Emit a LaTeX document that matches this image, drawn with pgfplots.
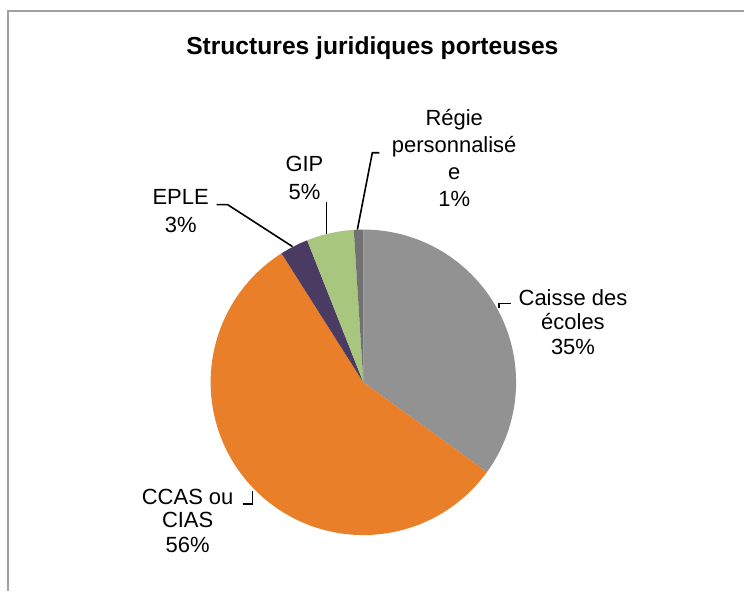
\documentclass[border=0pt]{standalone}
\usepackage{pgfplots}
\usepackage{pgfplotstable}
\pgfplotsset{compat=1.18}
\usepackage{fontspec}
\setmainfont{Liberation Sans}

\definecolor{cgray}{HTML}{929292}
\definecolor{corange}{HTML}{E97F29}
\definecolor{cpurple}{HTML}{4A3B63}
\definecolor{cgreen}{HTML}{A8C67D}
\definecolor{cdgray}{HTML}{727272}
\definecolor{cframe}{HTML}{A0A0A0}

% share of each structure (%), clockwise from 12 o'clock
\pgfplotstableread{
label value color
Caisse 35 cgray
CCAS 56 corange
EPLE 3 cpurple
GIP 5 cgreen
Regie 1 cdgray
}\piedata

\newcommand{\lblfont}{\fontsize{16.5}{20}\selectfont}

\begin{document}
\begin{tikzpicture}
\begin{axis}[
    x=0.75pt, y=0.75pt,
    xmin=0, xmax=745, ymin=0, ymax=592,
    hide axis, clip=false,
    scale only axis,
]
\path[fill=white] (axis cs:0,0) rectangle (axis cs:745,592);

% pie slices
\pgfplotstablegetrowsof{\piedata}
\pgfmathtruncatemacro\nrows{\pgfplotsretval-1}
\def\angstart{90}
\pgfplotsforeachungrouped \i in {0,...,\nrows}{
  \pgfplotstablegetelem{\i}{value}\of\piedata \let\v\pgfplotsretval
  \pgfplotstablegetelem{\i}{color}\of\piedata \let\c\pgfplotsretval
  \pgfmathsetmacro\angend{\angstart-3.6*\v}
  \edef\temp{\noexpand\fill[\c] (axis cs:364,209) -- ++(\angstart:114.75pt)
    arc[start angle=\angstart, end angle=\angend, radius=114.75pt] -- cycle;}
  \temp
  \global\let\angstart\angend
}

% frame
\draw[cframe, line width=2pt] (axis cs:8,0) -- (axis cs:8,581) -- (axis cs:745,581);

% title
\node[anchor=base, font=\fontsize{18.5}{22}\selectfont\bfseries] at (axis cs:373,537) {Structures juridiques porteuses};

% leader lines
\begin{scope}[black, line width=1.2pt]
\draw (axis cs:500,283) -- (axis cs:500,288) -- (axis cs:512,288);
\draw (axis cs:243,87) -- (axis cs:253,87) -- (axis cs:253,100);
\draw (axis cs:217,387) -- (axis cs:228,387) -- (axis cs:293,345);
\draw (axis cs:327,390) -- (axis cs:327,358);
\draw (axis cs:380,439) -- (axis cs:373,439) -- (axis cs:358,362);
\end{scope}

% labels
\node[anchor=base, font=\lblfont] at (axis cs:574,286) {Caisse des};
\node[anchor=base, font=\lblfont] at (axis cs:574,262) {écoles};
\node[anchor=base, font=\lblfont] at (axis cs:574,237) {35\%};

\node[anchor=base, font=\lblfont] at (axis cs:188,87) {CCAS ou};
\node[anchor=base, font=\lblfont] at (axis cs:188,64) {CIAS};
\node[anchor=base, font=\lblfont] at (axis cs:188,39) {56\%};

\node[anchor=base, font=\lblfont] at (axis cs:181,387) {EPLE};
\node[anchor=base, font=\lblfont] at (axis cs:181,359) {3\%};

\node[anchor=base, font=\lblfont] at (axis cs:305,420) {GIP};
\node[anchor=base, font=\lblfont] at (axis cs:305,392) {5\%};

\node[anchor=base, font=\lblfont] at (axis cs:455,466) {Régie};
\node[anchor=base, font=\lblfont] at (axis cs:455,439) {personnalisé};
\node[anchor=base, font=\lblfont] at (axis cs:455,412) {e};
\node[anchor=base, font=\lblfont] at (axis cs:455,385) {1\%};
\end{axis}
\end{tikzpicture}
\end{document}
